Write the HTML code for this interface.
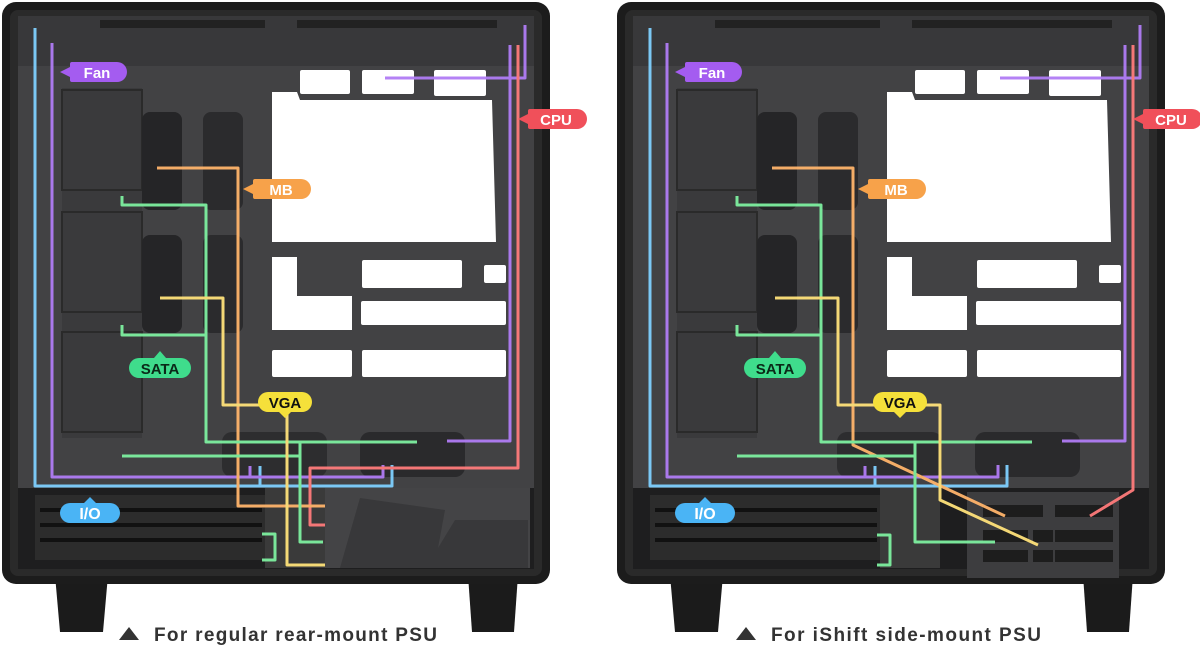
<!DOCTYPE html>
<html><head><meta charset="utf-8"><style>
html,body{margin:0;padding:0;background:#fff;width:1200px;height:645px;overflow:hidden}
svg{display:block}
text{font-family:"Liberation Sans",sans-serif;font-weight:bold}
</style></head><body>
<svg width="1200" height="645" viewBox="0 0 1200 645" xmlns="http://www.w3.org/2000/svg">
<defs>
<g id="case">
  <path d="M55 575 L108 575 L103 632 L60 632 Z" fill="#1b1b1b"/>
  <path d="M468 575 L518 575 L514 632 L472 632 Z" fill="#1b1b1b"/>
  <rect x="2" y="2" width="548" height="582" rx="14" fill="#1c1c1c"/>
  <rect x="10" y="10" width="532" height="566" rx="8" fill="#2a2a2a"/>
  <rect x="18" y="16" width="516" height="553" fill="#424244"/>
  <rect x="18" y="16" width="516" height="50" fill="#38383a"/>
  <rect x="100" y="20" width="165" height="8" fill="#222"/>
  <rect x="297" y="20" width="200" height="8" fill="#222"/>
  <rect x="62" y="88" width="80" height="350" fill="#3a3a3c"/>
  <rect x="62" y="90" width="80" height="100" fill="none" stroke="#2a2a2a" stroke-width="2"/>
  <rect x="62" y="212" width="80" height="100" fill="none" stroke="#2a2a2a" stroke-width="2"/>
  <rect x="62" y="332" width="80" height="100" fill="none" stroke="#2a2a2a" stroke-width="2"/>
  <rect x="142" y="112" width="40" height="98" rx="8" fill="#252527"/>
  <rect x="203" y="112" width="40" height="98" rx="8" fill="#2b2b2d"/>
  <rect x="142" y="235" width="40" height="98" rx="8" fill="#252527"/>
  <rect x="203" y="235" width="40" height="98" rx="8" fill="#2b2b2d"/>
  <rect x="222" y="432" width="105" height="45" rx="10" fill="#2d2d2f"/>
  <rect x="360" y="432" width="105" height="45" rx="10" fill="#2a2a2c"/>
  <g fill="#fff">
    <rect x="300" y="70" width="50" height="24" rx="2"/>
    <rect x="362" y="70" width="52" height="24" rx="2"/>
    <rect x="434" y="70" width="52" height="26" rx="2"/>
    <path d="M272 92 L297 92 L300 100 L492 100 L496 242 L272 242 Z"/>
    <path d="M272 257 L297 257 L297 296 L352 296 L352 330 L272 330 Z"/>
    <rect x="362" y="260" width="100" height="28" rx="2"/>
    <rect x="484" y="265" width="22" height="18" rx="2"/>
    <rect x="361" y="301" width="145" height="24" rx="2"/>
    <rect x="272" y="350" width="80" height="27" rx="2"/>
    <rect x="362" y="350" width="144" height="27" rx="2"/>
  </g>
  <rect x="18" y="488" width="516" height="81" fill="#1e1e1f"/>
  <rect x="35" y="495" width="230" height="65" fill="#2c2c2c"/>
  <g stroke="#111" stroke-width="4">
    <line x1="40" y1="510" x2="262" y2="510"/><line x1="40" y1="525" x2="262" y2="525"/><line x1="40" y1="540" x2="262" y2="540"/>
  </g>
  <rect x="265" y="488" width="60" height="80" fill="#3a3a3a"/>
</g>
</defs>

<!-- LEFT CASE -->
<use href="#case"/>
<rect x="325" y="488" width="205" height="80" fill="#444446"/>
<path d="M360 498 L445 510 L438 548 L455 520 L528 520 L528 568 L340 568 Z" fill="#38383a"/>

<g fill="none" stroke-width="3" stroke-linejoin="round" opacity="0.95">
  <polyline stroke="#7fd0ff" points="35,28 35,486 392,486 392,465"/>
  <polyline stroke="#7fd0ff" points="260,486 260,466"/>
  <polyline stroke="#b07cf5" points="52,43 52,477 383,477 383,465"/>
  <polyline stroke="#b07cf5" points="250,477 250,466"/>
  <polyline stroke="#b07cf5" points="385,78 525,78 525,25"/>
  <polyline stroke="#b07cf5" points="447,441 510,441 510,45"/>
  <polyline stroke="#ff7b7b" points="518,45 518,468 310,468 310,525 325,525"/>
  <polyline stroke="#ffb46b" points="157,168 238,168 238,506 325,506"/>
  <polyline stroke="#7ef0a0" points="122,196 122,205 206,205 206,442 417,442"/>
  <polyline stroke="#7ef0a0" points="122,325 122,335 206,335"/>
  <polyline stroke="#7ef0a0" points="122,456 300,456"/>
  <polyline stroke="#7ef0a0" points="300,442 300,542 323,542"/>
  <polyline stroke="#7ef0a0" points="262,560 275,560 275,534 262,534"/>
  <polyline stroke="#ffe27a" points="160,298 223,298 223,405 287,405 287,565 325,565"/>
</g>

<!-- RIGHT CASE -->
<g transform="translate(615,0)">
<use href="#case"/>
<rect x="352" y="492" width="152" height="86" fill="#3d3d3f"/>
<g fill="#1d1d1d">
  <rect x="368" y="505" width="60" height="12"/><rect x="440" y="505" width="58" height="12"/>
  <rect x="368" y="530" width="45" height="12"/><rect x="418" y="530" width="20" height="12"/><rect x="440" y="530" width="58" height="12"/>
  <rect x="368" y="550" width="45" height="12"/><rect x="418" y="550" width="20" height="12"/><rect x="440" y="550" width="58" height="12"/>
</g>
<g fill="none" stroke-width="3" stroke-linejoin="round" opacity="0.95">
  <polyline stroke="#7fd0ff" points="35,28 35,486 392,486 392,465"/>
  <polyline stroke="#7fd0ff" points="260,486 260,466"/>
  <polyline stroke="#b07cf5" points="52,43 52,477 383,477 383,465"/>
  <polyline stroke="#b07cf5" points="250,477 250,466"/>
  <polyline stroke="#b07cf5" points="385,78 525,78 525,25"/>
  <polyline stroke="#b07cf5" points="447,441 510,441 510,45"/>
  <polyline stroke="#ff7b7b" points="518,45 518,490 475,516"/>
  <polyline stroke="#ffb46b" points="157,168 238,168 238,445 390,516"/>
  <polyline stroke="#7ef0a0" points="122,196 122,205 206,205 206,442 417,442"/>
  <polyline stroke="#7ef0a0" points="122,325 122,335 206,335"/>
  <polyline stroke="#7ef0a0" points="122,456 300,456"/>
  <polyline stroke="#7ef0a0" points="300,442 300,542 380,542"/>
  <polyline stroke="#7ef0a0" points="262,565 275,565 275,535 262,535"/>
  <polyline stroke="#ffe27a" points="160,298 223,298 223,405 325,405 325,500 423,545"/>
</g>
</g>

<g id="labels">
  <path d="M60 72 L70 67 L70 64 Q70 62 72 62 L117 62 A10 10 0 0 1 117 82 L72 82 Q70 82 70 80 L70 77 Z" fill="#a45cf0"/>
  <text x="97" y="78" font-size="15" fill="#fff" text-anchor="middle">Fan</text>
  <path d="M518 119 L528 114 L528 111 Q528 109 530 109 L577 109 A10 10 0 0 1 577 129 L530 129 Q528 129 528 127 L528 124 Z" fill="#f0505a"/>
  <text x="556" y="125" font-size="15" fill="#fff" text-anchor="middle">CPU</text>
  <path d="M243 189 L253 184 L253 181 Q253 179 255 179 L301 179 A10 10 0 0 1 301 199 L255 199 Q253 199 253 197 L253 194 Z" fill="#f7a24a"/>
  <text x="281" y="195" font-size="15" fill="#fff" text-anchor="middle">MB</text>
  <path d="M160 351 L166 358 L181 358 A10 10 0 0 1 181 378 L139 378 A10 10 0 0 1 139 358 L154 358 Z" fill="#3fdc8c"/>
  <text x="160" y="374" font-size="15" fill="#0a2a18" text-anchor="middle">SATA</text>
  <path d="M268 392 L302 392 A10 10 0 0 1 302 412 L291 412 L285 418 L279 412 L268 412 A10 10 0 0 1 268 392 Z" fill="#f5e03a"/>
  <text x="285" y="408" font-size="15" fill="#111" text-anchor="middle">VGA</text>
  <path d="M90 497 L96 503 L110 503 A10 10 0 0 1 110 523 L70 523 A10 10 0 0 1 70 503 L84 503 Z" fill="#4ab4f5"/>
  <text x="90" y="519" font-size="16" fill="#fff" text-anchor="middle">I/O</text>
</g>
<use href="#labels" transform="translate(615,0)"/>

<path d="M119 640 L129 627 L139 640 Z" fill="#333"/>
<text x="154" y="641" font-size="19" fill="#333" textLength="283">For regular rear-mount PSU</text>
<path d="M736 640 L746 627 L756 640 Z" fill="#333"/>
<text x="771" y="641" font-size="19" fill="#333" textLength="270">For iShift side-mount PSU</text>
</svg>
</body></html>
